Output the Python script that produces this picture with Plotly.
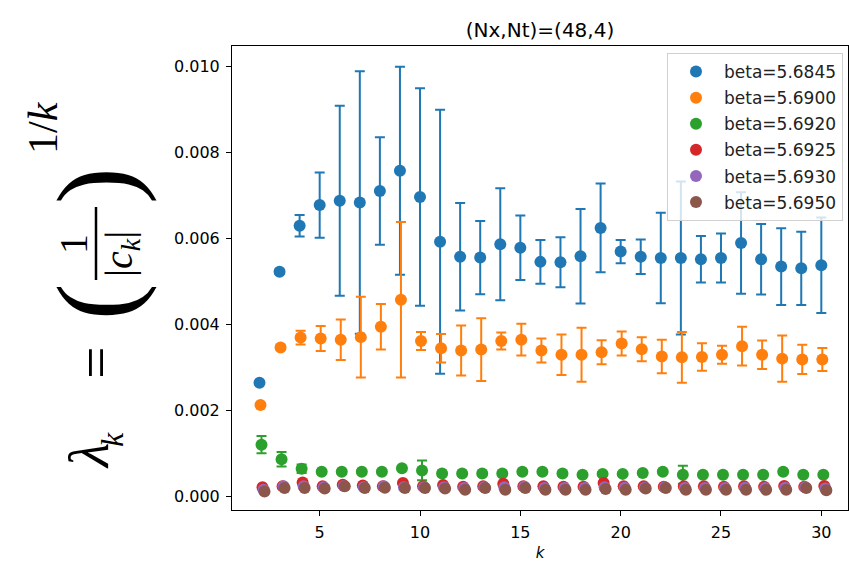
import plotly.graph_objects as go

# Expansion order k
k_values = list(range(2, 31))

beta_labels = ["beta=5.6845", "beta=5.6900", "beta=5.6920",
               "beta=5.6925", "beta=5.6930", "beta=5.6950"]
colors = ["#1f77b4", "#ff7f0e", "#2ca02c", "#d62728", "#9467bd", "#8c564b"]

# lambda_k estimates, in units of 1e-3
lam_56845 = [2.65, 5.23, 6.30, 6.78, 6.88, 6.84, 7.11, 7.58, 6.97, 5.93,
             5.58, 5.56, 5.87, 5.79, 5.46, 5.45, 5.59, 6.25, 5.70, 5.58,
             5.55, 5.55, 5.52, 5.55, 5.90, 5.52, 5.35, 5.31, 5.38]
err_56845 = [0.03, 0.05, 0.25, 0.76, 2.21, 3.05, 1.25, 2.42, 2.53, 3.07,
             1.25, 0.85, 1.30, 0.75, 0.51, 0.58, 1.10, 1.03, 0.27, 0.40,
             1.05, 1.78, 0.54, 0.57, 1.18, 0.82, 0.89, 0.85, 1.11]

lam_56900 = [2.13, 3.47, 3.70, 3.68, 3.65, 3.71, 3.95, 4.58, 3.62, 3.45,
             3.40, 3.42, 3.62, 3.65, 3.40, 3.30, 3.30, 3.36, 3.56, 3.43,
             3.26, 3.24, 3.25, 3.30, 3.50, 3.30, 3.21, 3.19, 3.19]
err_56900 = [0.03, 0.05, 0.16, 0.29, 0.47, 0.94, 0.53, 1.81, 0.21, 0.33,
             0.58, 0.73, 0.20, 0.37, 0.28, 0.47, 0.63, 0.28, 0.28, 0.28,
             0.39, 0.59, 0.32, 0.21, 0.45, 0.33, 0.54, 0.34, 0.27]

lam_56920 = [1.21, 0.87, 0.65, 0.58, 0.58, 0.58, 0.58, 0.66, 0.61, 0.54,
             0.54, 0.54, 0.54, 0.58, 0.58, 0.54, 0.51, 0.53, 0.53, 0.55,
             0.58, 0.51, 0.51, 0.51, 0.51, 0.51, 0.58, 0.51, 0.51]
err_56920 = [0.20, 0.17, 0.10, 0.04, 0.04, 0.04, 0.04, 0.04, 0.23, 0.04,
             0.04, 0.04, 0.04, 0.04, 0.04, 0.04, 0.04, 0.04, 0.04, 0.04,
             0.04, 0.21, 0.04, 0.04, 0.04, 0.04, 0.04, 0.04, 0.04]

lam_56925 = [0.22, 0.24, 0.33, 0.24, 0.28, 0.26, 0.24, 0.32, 0.24, 0.27,
             0.23, 0.24, 0.30, 0.24, 0.24, 0.23, 0.23, 0.32, 0.24, 0.24,
             0.23, 0.24, 0.24, 0.23, 0.24, 0.23, 0.25, 0.23, 0.25]
err_56925 = [0.03] * 29

lam_56930 = [0.16, 0.24, 0.24, 0.22, 0.25, 0.22, 0.24, 0.22, 0.22, 0.22,
             0.20, 0.22, 0.22, 0.23, 0.20, 0.20, 0.20, 0.22, 0.21, 0.21,
             0.22, 0.20, 0.20, 0.20, 0.21, 0.20, 0.21, 0.22, 0.19]
err_56930 = [0.03] * 29

lam_56950 = [0.12, 0.20, 0.20, 0.19, 0.24, 0.20, 0.21, 0.20, 0.20, 0.19,
             0.16, 0.20, 0.16, 0.20, 0.16, 0.16, 0.16, 0.18, 0.16, 0.19,
             0.20, 0.16, 0.16, 0.16, 0.16, 0.16, 0.16, 0.20, 0.15]
err_56950 = [0.03] * 29

series = [(lam_56845, err_56845), (lam_56900, err_56900), (lam_56920, err_56920),
          (lam_56925, err_56925), (lam_56930, err_56930), (lam_56950, err_56950)]

fig = go.Figure()
for i, ((vals, errs), label, color) in enumerate(zip(series, beta_labels, colors)):
    shift = 0.05 * i  # small horizontal shift so overlapping points stay visible
    fig.add_trace(go.Scatter(
        x=[k + shift for k in k_values],
        y=[v * 1e-3 for v in vals],
        error_y=dict(type="data", array=[e * 1e-3 for e in errs], visible=True,
                     color=color, thickness=2, width=5),
        mode="markers",
        marker=dict(color=color, size=12, line=dict(width=0)),
        name=label,
        legendgroup=label,
    ))

# figure geometry (pixels)
W, H = 849, 562
L, R, T, B = 232, 848, 46, 510


def paper(xp, yp):
    return (xp - L) / (R - L), (B - yp) / (B - T)


axis_common = dict(showline=True, linecolor="black", linewidth=1, mirror=True,
                   ticks="outside", ticklen=5, tickwidth=1, tickcolor="black",
                   showgrid=False, zeroline=False, ticklabelstandoff=3,
                   tickfont=dict(family="DejaVu Sans", size=16, color="black"))

fig.update_layout(
    width=W, height=H,
    margin=dict(l=L, r=W - R, t=T, b=H - B),
    paper_bgcolor="white", plot_bgcolor="white",
    font=dict(family="DejaVu Sans", color="black"),
    title=dict(text="(Nx,Nt)=(48,4)", x=(L + R) / 2 / W, xanchor="center",
               y=1 - 30 / H, yanchor="middle",
               font=dict(family="DejaVu Sans", size=20, color="black")),
    xaxis=dict(range=[0.63, 31.33], tickvals=[5, 10, 15, 20, 25, 30],
               title=dict(text="<i>k</i>", standoff=9,
                          font=dict(family="DejaVu Sans", size=15)),
               **axis_common),
    yaxis=dict(range=[-0.00031, 0.01048], tickvals=[0, 0.002, 0.004, 0.006, 0.008, 0.010],
               tickformat=".3f", **axis_common),
    legend=dict(x=paper(843, 0)[0], y=paper(0, 53)[1], xanchor="right", yanchor="top",
                bgcolor="rgba(255,255,255,0.8)", bordercolor="#d0d0d0", borderwidth=1,
                itemwidth=46, tracegroupgap=1,
                font=dict(family="DejaVu Sans", size=17, color="#222222")),
    showlegend=True,
)

# y-axis label: lambda_k = (1/|c_k|)^(1/k), typeset from rotated pieces
serif = "Liberation Serif"
label_parts = [
    ("<i>λ</i>", 89, 456, 56),
    ("<i>k</i>", 112, 440, 32),
    ("=", 95, 363, 58),
    ("(", 96, 302, 110),
    (")", 96, 186, 110),
    ("1", 73, 244, 40),
    ("|<i>c</i><sub><i>k</i></sub>|", 121, 254, 40),
    ("1/<i>k</i>", 43, 128, 42),
]
for text, xp, yp, size in label_parts:
    xa, ya = paper(xp, yp)
    fig.add_annotation(text=text, x=xa, y=ya, xref="paper", yref="paper",
                       showarrow=False, textangle=-90, xanchor="center", yanchor="middle",
                       font=dict(family=serif, size=size, color="black"))

# fraction bar
x0, y0 = paper(96, 207)
x1, y1 = paper(96, 280)
fig.add_shape(type="line", xref="paper", yref="paper", x0=x0, x1=x1, y0=y0, y1=y1,
              line=dict(color="black", width=2.5))

fig.write_html("out.html")
